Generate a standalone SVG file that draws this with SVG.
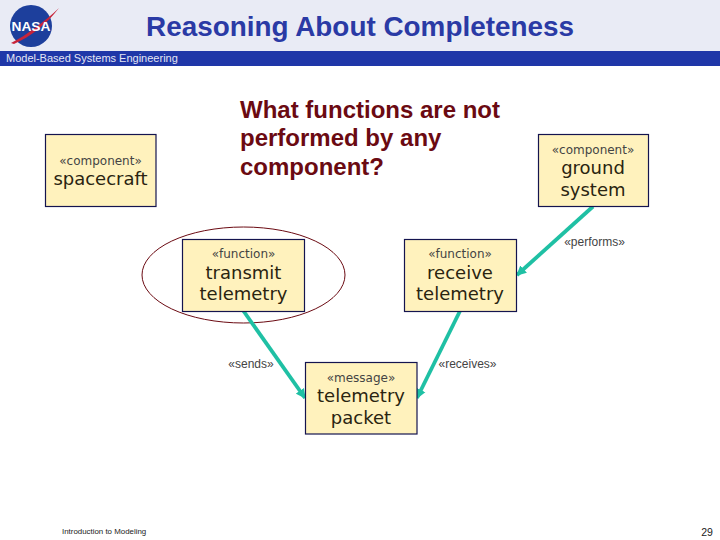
<svg xmlns="http://www.w3.org/2000/svg" width="720" height="540" viewBox="0 0 720 540">
<style>
.box{fill:#fff2bd;stroke:#14144f;stroke-width:1.2}
.st{font-family:"DejaVu Sans",sans-serif;font-size:12px;fill:#444;text-anchor:middle}
.nm{font-family:"DejaVu Sans",sans-serif;font-size:18px;fill:#2a2410;text-anchor:middle}
.lb{font-family:"Liberation Sans",sans-serif;font-size:12px;fill:#444;text-anchor:middle}
.q{font-family:"Liberation Sans",sans-serif;font-size:24px;font-weight:bold;fill:#6b0a12}
.c{fill:none;stroke:#1fc0a4;stroke-width:3.800}
</style>
<defs>
<marker id="arr" viewBox="0 0 10 10" refX="9" refY="5" markerWidth="2.600" markerHeight="3" orient="auto"><path d="M0 0L10 5L0 10z" fill="#1fc0a4"/></marker>
</defs>
<rect width="720" height="540" fill="#fff"/>
<rect id="header" width="720" height="51" fill="#e9ebf5"/>
<rect id="band" y="51" width="720" height="15" fill="#1f37a8"/>
<g id="logo">
<circle cx="31" cy="26" r="21" fill="#1d3f9c"/>
<path d="M11 43C27 35 44 22 59 8C47 24 30 37 14 44z" fill="#c8243a"/>
<text x="31" y="31" font-family="'Liberation Sans',sans-serif" font-size="12" font-weight="bold" fill="#fff" text-anchor="middle" textLength="39" lengthAdjust="spacingAndGlyphs">NASA</text>
</g>
<text x="360" y="36" font-family="'Liberation Sans',sans-serif" font-size="28px" font-weight="bold" fill="#2a3aa5" text-anchor="middle" textLength="428" lengthAdjust="spacingAndGlyphs">Reasoning About Completeness</text>
<text x="6" y="62" font-family="'Liberation Sans',sans-serif" font-size="11" fill="#e4e6f4">Model-Based Systems Engineering</text>
<g id="question">
<text class="q" x="240" y="118">What functions are not</text>
<text class="q" x="240" y="146">performed by any</text>
<text class="q" x="240" y="175">component?</text>
</g>
<ellipse id="highlight" cx="243.500" cy="275" rx="101.500" ry="48" fill="none" stroke="#6b0a12" stroke-width="1"/>
<g id="connectors">
<path class="c" d="M243.500 311L305 398" marker-end="url(#arr)"/>
<path class="c" d="M593 206.500L517 275" marker-end="url(#arr)"/>
<path class="c" d="M460 311L417 398" marker-end="url(#arr)"/>
</g>
<g id="spacecraft"><rect class="box" x="45.500" y="134.500" width="110.500" height="72"/><text class="st" x="100.500" y="165">«component»</text><text class="nm" x="100.500" y="185">spacecraft</text></g>
<g id="ground-system"><rect class="box" x="538.500" y="134.500" width="110" height="72"/><text class="st" x="593" y="154">«component»</text><text class="nm" x="593" y="174">ground</text><text class="nm" x="593" y="196">system</text></g>
<g id="transmit-telemetry"><rect class="box" x="182.500" y="239.500" width="122" height="72"/><text class="st" x="243.500" y="258">«function»</text><text class="nm" x="243.500" y="279">transmit</text><text class="nm" x="243.500" y="300">telemetry</text></g>
<g id="receive-telemetry"><rect class="box" x="404.500" y="239.500" width="112" height="72"/><text class="st" x="460" y="258">«function»</text><text class="nm" x="460" y="279">receive</text><text class="nm" x="460" y="300">telemetry</text></g>
<g id="telemetry-packet"><rect class="box" x="305.500" y="362.500" width="111.500" height="71.500"/><text class="st" x="361" y="382">«message»</text><text class="nm" x="361" y="402">telemetry</text><text class="nm" x="361" y="424">packet</text></g>
<text class="lb" x="251" y="368">«sends»</text>
<text class="lb" x="467.500" y="368">«receives»</text>
<text class="lb" x="594.500" y="246">«performs»</text>
<text x="62" y="534" font-family="'Liberation Sans',sans-serif" font-size="7.900" fill="#222">Introduction to Modeling</text>
<text x="707" y="536" font-family="'Liberation Sans',sans-serif" font-size="10.500" fill="#222" text-anchor="middle">29</text>
</svg>
